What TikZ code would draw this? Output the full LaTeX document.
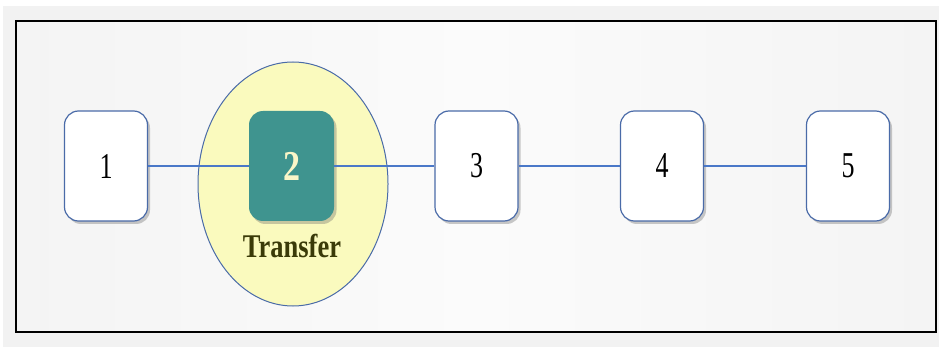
\documentclass[tikz,border=0pt]{standalone}
\usepackage{fontspec}
\setmainfont{Liberation Serif}
\usetikzlibrary{shadows,shapes.geometric}
\definecolor{framebg}{HTML}{F2F2F2}
\definecolor{inneredge}{HTML}{F4F4F4}
\definecolor{innerbg}{HTML}{FBFBFB}
\definecolor{boxline}{HTML}{4A6BA8}
\definecolor{linkline}{HTML}{4A78C8}
\definecolor{tealfill}{HTML}{3F948F}
\definecolor{creamtxt}{HTML}{FAF6C8}
\definecolor{ovalfill}{HTML}{FAFABE}
\definecolor{oliveTxt}{HTML}{3A3A08}
\tikzset{
  stepbox/.style={draw=boxline, line width=1.2pt, fill=white, rounded corners=14pt,
    minimum width=83pt, minimum height=110pt, inner sep=0pt,
    drop shadow={shadow xshift=2.5pt, shadow yshift=-3pt, opacity=0.35, fill=black!60}},
  activebox/.style={fill=tealfill, rounded corners=14pt,
    minimum width=85pt, minimum height=110pt, inner sep=0pt,
    drop shadow={shadow xshift=2.5pt, shadow yshift=-3pt, opacity=0.35, fill=black!60}},
  link/.style={draw=linkline, line width=1.3pt},
  numtxt/.style={font=\fontsize{26pt}{26pt}\selectfont}
}
\newcommand{\tallnum}[1]{\scalebox{1}[1.4]{#1}}
\begin{document}
\begin{tikzpicture}[x=1pt, y=-1pt]
  \useasboundingbox (0,0) rectangle (939,347);
  % page and framed panel
  \fill[white] (0,0) rectangle (939,347);
  \fill[framebg] (3,6) rectangle (939,347);
  \shade[left color=inneredge, right color=inneredge, middle color=innerbg] (16,21) rectangle (936,332);
  \draw[black, line width=2pt] (16,21) rectangle (936,332);

  % highlighted step
  \node[ellipse, draw=boxline, line width=1pt, fill=ovalfill,
        minimum width=190pt, minimum height=244pt, inner sep=0pt] (oval) at (293,184) {};

  \node[stepbox, numtxt] (s1) at (106,166) {\tallnum{1}};
  \node[activebox, text=creamtxt, font=\fontsize{34pt}{34pt}\selectfont\bfseries]
    (s2) at (291.5,166) {\scalebox{1}[1.25]{2}};
  \node[stepbox, numtxt] (s3) at (476.5,166) {\tallnum{3}};
  \node[stepbox, numtxt] (s4) at (662,166) {\tallnum{4}};
  \node[stepbox, numtxt] (s5) at (848,166) {\tallnum{5}};

  \node[text=oliveTxt, inner sep=0pt] (lbl) at (292,246)
    {\scalebox{1}[1.25]{\fontsize{26.5pt}{26.5pt}\selectfont\bfseries Transfer}};

  % connectors
  \draw[link] (s1.east) -- (s2.west);
  \draw[link] (s2.east) -- (s3.west);
  \draw[link] (s3.east) -- (s4.west);
  \draw[link] (s4.east) -- (s5.west);
\end{tikzpicture}
\end{document}
